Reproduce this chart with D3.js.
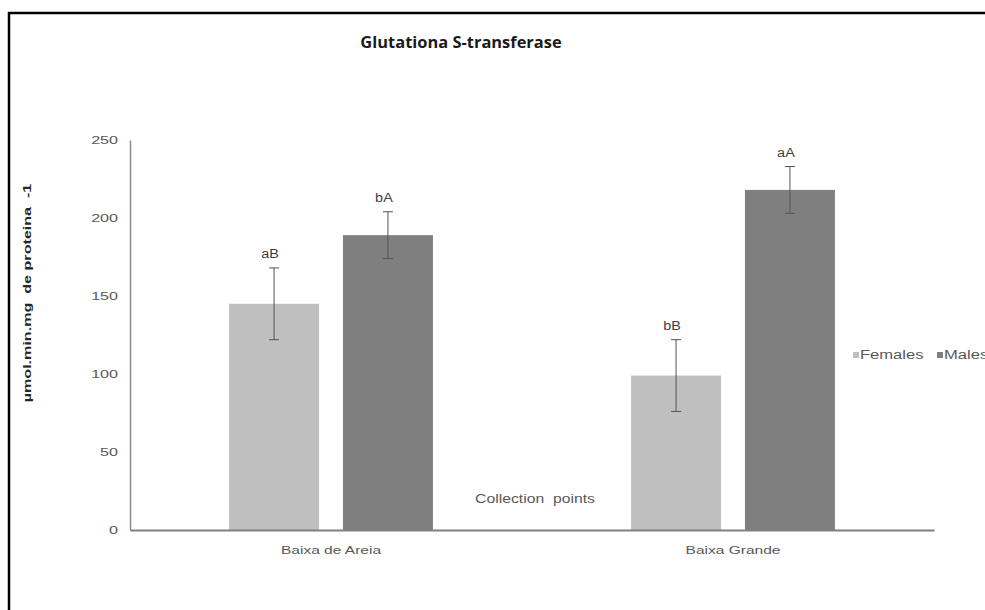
<!DOCTYPE html>
<html>
<head>
<meta charset="utf-8">
<script src="https://cdn.jsdelivr.net/npm/d3@7"></script>
<style>
  body { margin: 0; background: #fff; }
  text { font-family: "Liberation Sans", Arial, sans-serif; }
</style>
</head>
<body>
<div id="chart"></div>
<script>
// data
var sites = ["Baixa de Areia", "Baixa Grande"];
var series = ["Females", "Males"];
var females = [145, 99];
var males = [189, 218];
var femalesErr = [23, 23];
var malesErr = [15, 15];
var femalesLetters = ["aB", "bB"];
var malesLetters = ["bA", "aA"];
var yTicks = [0, 50, 100, 150, 200, 250];

var W = 985, H = 610;

var svg = d3.select("#chart")
  .append("svg")
    .attr("width", W)
    .attr("height", H);

// frame (right and bottom run off the picture)
svg.append("rect")
  .attr("x", 9).attr("y", 13)
  .attr("width", 1000).attr("height", 700)
  .attr("fill", "none")
  .attr("stroke", "#000")
  .attr("stroke-width", 2.5);

// build rows from the arrays
var rows = [];
sites.forEach(function(s, i) {
  rows.push({site: s, serie: "Females", value: females[i], err: femalesErr[i], letter: femalesLetters[i]});
  rows.push({site: s, serie: "Males", value: males[i], err: malesErr[i], letter: malesLetters[i]});
});

var color = d3.scaleOrdinal()
  .domain(series)
  .range(["#bfbfbf", "#7f7f7f"]);

// stretch text horizontally like the original picture
function stretch(sel, k) {
  sel.each(function() {
    var w = this.getComputedTextLength();
    d3.select(this)
      .attr("textLength", w * k)
      .attr("lengthAdjust", "spacingAndGlyphs");
  });
}

var x = d3.scaleBand()
  .domain(sites)
  .range([130, 934])
  .padding(0);

var xSub = d3.scaleBand()
  .domain(series)
  .range([0, x.bandwidth()])
  .paddingInner(0.21)
  .paddingOuter(0.87);

var y = d3.scaleLinear()
  .domain([0, 250])
  .range([530, 140]);

// Y axis
var gy = svg.append("g")
  .attr("transform", "translate(130,0)")
  .call(d3.axisLeft(y).tickValues(yTicks).tickSize(0).tickPadding(12));
gy.select(".domain").attr("stroke", "#8c8c8c").attr("stroke-width", 1.5);
gy.selectAll(".tick text")
  .attr("fill", "#595959")
  .style("font-size", "11.5px")
  .call(stretch, 1.4);

// bars
svg.selectAll("rect.bar")
  .data(rows)
  .enter()
  .append("rect")
    .attr("class", "bar")
    .attr("x", function(d) { return x(d.site) + xSub(d.serie); })
    .attr("y", function(d) { return y(d.value); })
    .attr("width", xSub.bandwidth())
    .attr("height", function(d) { return y(0) - y(d.value); })
    .attr("fill", function(d) { return color(d.serie); });

// error bars
var eb = svg.selectAll("g.err")
  .data(rows)
  .enter()
  .append("g")
    .attr("class", "err")
    .attr("stroke", "#555")
    .attr("stroke-width", 1);
eb.append("line")
  .attr("x1", function(d) { return x(d.site) + xSub(d.serie) + xSub.bandwidth() / 2; })
  .attr("x2", function(d) { return x(d.site) + xSub(d.serie) + xSub.bandwidth() / 2; })
  .attr("y1", function(d) { return y(d.value + d.err); })
  .attr("y2", function(d) { return y(d.value - d.err); });
eb.selectAll("line.cap")
  .data(function(d) { return [d.value + d.err, d.value - d.err].map(function(v) { return {d: d, v: v}; }); })
  .enter()
  .append("line")
    .attr("class", "cap")
    .attr("x1", function(c) { return x(c.d.site) + xSub(c.d.serie) + xSub.bandwidth() / 2 - 5; })
    .attr("x2", function(c) { return x(c.d.site) + xSub(c.d.serie) + xSub.bandwidth() / 2 + 5; })
    .attr("y1", function(c) { return y(c.v); })
    .attr("y2", function(c) { return y(c.v); });

// letters above error bars
svg.selectAll("text.letter")
  .data(rows)
  .enter()
  .append("text")
    .attr("class", "letter")
    .attr("x", function(d) { return x(d.site) + xSub(d.serie) + xSub.bandwidth() / 2 - 4; })
    .attr("y", function(d) { return y(d.value + d.err) - 10; })
    .attr("text-anchor", "middle")
    .attr("fill", "#404040")
    .style("font-size", "12px")
    .text(function(d) { return d.letter; })
    .call(stretch, 1.2);

// X axis
var gx = svg.append("g")
  .attr("transform", "translate(0,530)")
  .call(d3.axisBottom(x).tickSize(0).tickPadding(16));
gx.select(".domain").attr("stroke", "#808080").attr("stroke-width", 2);
gx.selectAll(".tick text")
  .attr("fill", "#595959")
  .style("font-size", "11.5px")
  .call(stretch, 1.35);

// x axis title (sits inside the plot)
svg.append("text")
  .attr("x", 535)
  .attr("y", 503)
  .attr("text-anchor", "middle")
  .attr("fill", "#595959")
  .style("font-size", "12.5px")
  .attr("xml:space", "preserve")
  .text("Collection  points")
  .call(stretch, 1.26);

// y axis title
svg.append("text")
  .attr("transform", "translate(31,293) rotate(-90)")
  .attr("text-anchor", "middle")
  .attr("fill", "#262626")
  .style("font-size", "11.5px")
  .style("font-weight", "bold")
  .attr("xml:space", "preserve")
  .text("µmol.min.mg  de proteina  -1")
  .call(stretch, 1.4);

// title
svg.append("text")
  .attr("x", 461)
  .attr("y", 48)
  .attr("text-anchor", "middle")
  .attr("fill", "#1a1a1a")
  .style("font-family", "'Open Sans', sans-serif")
  .style("font-size", "15.5px")
  .style("font-weight", "700")
  .text("Glutationa S-transferase")
  .call(stretch, 1.06);

// legend
var leg = svg.selectAll("g.legend")
  .data(series)
  .enter()
  .append("g")
    .attr("class", "legend")
    .attr("transform", function(d, i) { return "translate(" + (853 + i * 84) + ",355)"; });
leg.append("rect")
  .attr("x", 0).attr("y", -3)
  .attr("width", 6).attr("height", 6)
  .attr("fill", function(d) { return color(d); });
leg.append("text")
  .attr("x", 7)
  .attr("y", 4)
  .attr("fill", "#595959")
  .style("font-size", "12px")
  .text(function(d) { return d; })
  .call(stretch, 1.38);
</script>
</body>
</html>
